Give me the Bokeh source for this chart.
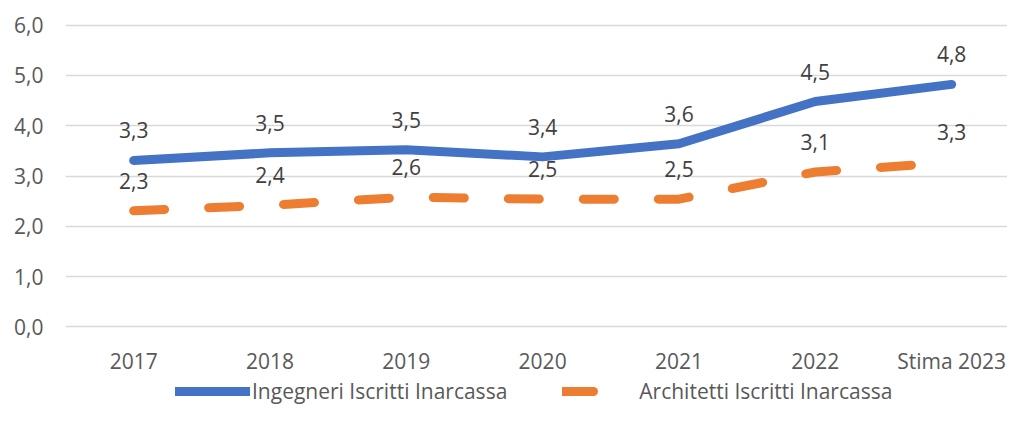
from bokeh.plotting import figure
from bokeh.layouts import column
from bokeh.models import ColumnDataSource, Range1d, FixedTicker, Legend, LegendItem
from bokeh.core.properties import value
from bokeh.embed import file_html
from bokeh.resources import INLINE

categories = ["2017", "2018", "2019", "2020", "2021", "2022", "Stima 2023"]
ingegneri = [3.31, 3.46, 3.52, 3.38, 3.64, 4.48, 4.82]
architetti = [2.31, 2.42, 2.58, 2.54, 2.54, 3.08, 3.27]
y_ticks = [0, 1, 2, 3, 4, 5, 6]
series_names = ["Ingegneri Iscritti Inarcassa", "Architetti Iscritti Inarcassa"]

FONT = "Open Sans"
BLUE = "#4472C4"
ORANGE = "#ED7D31"
DASH = "31 44"

def fmt(v):
    return f"{v:.1f}".replace(".", ",")

idx = list(range(len(categories)))
src_i = ColumnDataSource(dict(x=idx, y=ingegneri, lab=[fmt(v) for v in ingegneri]))
src_a = ColumnDataSource(dict(x=idx, y=architetti, lab=[fmt(v) for v in architetti]))

p = figure(width=1007, height=377, output_backend="svg", toolbar_location=None,
           x_range=Range1d(-0.5, 6.41), y_range=Range1d(-0.05, 6.05),
           min_border_left=65, min_border_right=0, min_border_top=22, min_border_bottom=48)
p.outline_line_color = None
p.background_fill_color = "white"
p.border_fill_color = "white"

p.xaxis.ticker = FixedTicker(ticks=idx)
p.xaxis.major_label_overrides = {i: c for i, c in enumerate(categories)}
p.yaxis.ticker = FixedTicker(ticks=y_ticks)
p.yaxis.major_label_overrides = {t: fmt(t) for t in y_ticks}
for ax in (p.xaxis[0], p.yaxis[0]):
    ax.axis_line_color = None
    ax.major_tick_line_color = None
    ax.minor_tick_line_color = None
    ax.major_tick_out = 0
    ax.major_tick_in = 0
    ax.major_label_text_font = FONT
    ax.major_label_text_font_size = "21px"
    ax.major_label_text_color = "#595959"
p.yaxis.major_label_standoff = 22
p.xaxis.major_label_standoff = 17

p.xgrid.grid_line_color = None
p.ygrid.ticker = FixedTicker(ticks=y_ticks)
p.ygrid.grid_line_color = "#D9D9D9"
p.ygrid.grid_line_width = 1.5

p.line("x", "y", source=src_i, line_color=BLUE, line_width=9,
       line_cap="round", line_join="round")
p.line("x", "y", source=src_a, line_color=ORANGE, line_width=9,
       line_cap="round", line_join="round", line_dash=DASH)

for src in (src_i, src_a):
    p.text("x", "y", text="lab", source=src, y_offset=-30,
           text_align="center", text_baseline="middle",
           text_font=value(FONT), text_font_size="21px", text_color="#404040")

# legend strip (proxy renderers sit outside this strip's visible range)
lg = figure(width=1007, height=28, output_backend="svg", toolbar_location=None,
            x_axis_type=None, y_axis_type=None,
            x_range=Range1d(0, 1), y_range=Range1d(-20, -19),
            min_border_left=0, min_border_right=0, min_border_top=0, min_border_bottom=0)
lg.grid.grid_line_color = None
lg.outline_line_color = None
lg.border_fill_color = "white"
li = lg.line("x", "y", source=src_i, line_color=BLUE, line_width=9, line_cap="round")
la = lg.line("x", "y", source=src_a, line_color=ORANGE, line_width=9, line_cap="round",
             line_dash=DASH)
legend = Legend(items=[
    LegendItem(label=series_names[0], renderers=[li]),
    LegendItem(label=series_names[1], renderers=[la]),
], orientation="horizontal", location=(110, 0))
legend.label_text_font = FONT
legend.label_text_font_size = "21px"
legend.label_text_color = "#595959"
legend.glyph_width = 75
legend.glyph_height = 20
legend.label_standoff = 2
legend.spacing = 55
legend.padding = 0
legend.margin = 0
legend.border_line_color = None
legend.background_fill_alpha = 0
lg.add_layout(legend, "center")

layout = column(p, lg, spacing=0)
open("out.html", "w").write(file_html(layout, INLINE))
